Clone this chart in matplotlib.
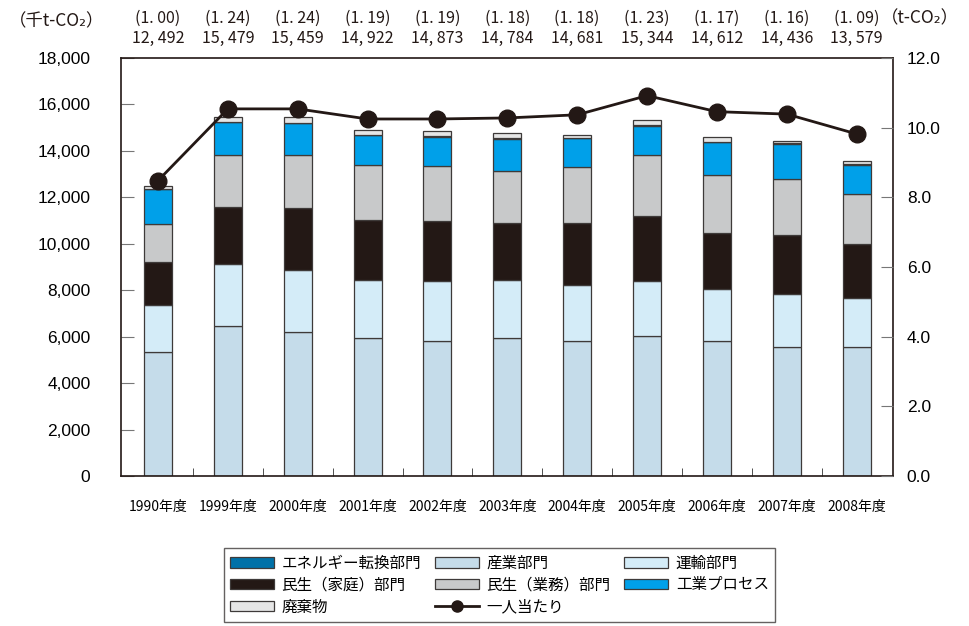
import matplotlib
matplotlib.use("Agg")
import matplotlib.pyplot as plt
from matplotlib.lines import Line2D
import numpy as np

plt.rcParams['font.family'] = ['Noto Sans CJK JP', 'DejaVu Sans']

years = ['1990年度', '1999年度', '2000年度', '2001年度', '2002年度', '2003年度',
         '2004年度', '2005年度', '2006年度', '2007年度', '2008年度']
totals = [12492, 15479, 15459, 14922, 14873, 14784, 14681, 15344, 14612, 14436, 13579]
ratios = ['1.00', '1.24', '1.24', '1.19', '1.19', '1.18', '1.18', '1.23', '1.17', '1.16', '1.09']

# 千t-CO2
sangyo = [5354, 6456, 6206, 5926, 5794, 5928, 5824, 6025, 5797, 5553, 5562]
unyu = [2027, 2653, 2650, 2518, 2622, 2518, 2395, 2379, 2257, 2281, 2114]
katei = [1827, 2455, 2692, 2560, 2552, 2433, 2678, 2801, 2426, 2550, 2313]
gyomu = [1642, 2270, 2267, 2390, 2383, 2264, 2395, 2632, 2496, 2394, 2171]
kogyo = [1513, 1390, 1389, 1273, 1269, 1386, 1261, 1253, 1396, 1530, 1249]
energy = [15, 15, 15, 15, 15, 15, 15, 15, 15, 15, 15]
haiki = [114, 240, 240, 240, 238, 240, 113, 239, 225, 113, 155]

per_capita = [8.48, 10.54, 10.54, 10.25, 10.25, 10.28, 10.37, 10.92, 10.46, 10.39, 9.82]

series = [
    ('産業部門', sangyo, '#c5dcea'),
    ('運輸部門', unyu, '#d4ecf8'),
    ('民生（家庭）部門', katei, '#231815'),
    ('民生（業務）部門', gyomu, '#c8c9ca'),
    ('工業プロセス', kogyo, '#00a0e9'),
    ('エネルギー転換部門', energy, '#0071a8'),
    ('廃棄物', haiki, '#e6e6e6'),
]

fig = plt.figure(figsize=(9.7, 6.26), dpi=100)
ax = fig.add_axes([0.1247, 0.2396, 0.7959, 0.6677])

x = np.arange(len(years))
bottom = np.zeros(len(years))
handles = {}
for name, vals, col in series:
    b = ax.bar(x, vals, 0.4, bottom=bottom, color=col, edgecolor='#3e3a39',
               linewidth=0.9, label=name)
    handles[name] = b
    bottom += np.array(vals)

ax.set_xlim(-0.53, 10.52)
ax.set_ylim(0, 18000)
ax.set_yticks(range(0, 18001, 2000))
ax.set_yticklabels([f'{v:,}' for v in range(0, 18001, 2000)], fontsize=12.5,
                   family=['Liberation Sans', 'DejaVu Sans'])
ax.tick_params(axis='y', direction='in', length=9, color='#777777', pad=22)

ax.set_xticks(x)
ax.set_xticklabels(years, fontsize=10)
ax.tick_params(axis='x', length=0, pad=17)
ax.set_xticks(x[:-1] + 0.5, minor=True)
ax.tick_params(axis='x', which='minor', direction='in', length=6, color='#333333')

for s in ax.spines.values():
    s.set_color('#231815')
    s.set_linewidth(1.2)

ax2 = ax.twinx()
ax2.set_ylim(0, 12)
ax2.set_yticks(np.arange(0, 12.1, 2))
ax2.set_yticklabels([f'{v:.1f}' for v in np.arange(0, 12.1, 2)], fontsize=12.5,
                    family=['Liberation Sans', 'DejaVu Sans'])
ax2.tick_params(axis='y', direction='in', length=9, color='#777777', pad=10)
ax2.plot(x, per_capita, color='#231815', linewidth=2, marker='o', markersize=12)
for s in ax2.spines.values():
    s.set_visible(False)

trans = ax.get_xaxis_transform()
for i in range(len(years)):
    ax.text(x[i], 1.096, f'({ratios[i][:2]} {ratios[i][2:]})', transform=trans,
            ha='center', va='center', fontsize=11.5, color='#231815')
    t = f'{totals[i]:,}'.replace(',', ', ')
    ax.text(x[i], 1.048, t, transform=trans, ha='center', va='center',
            fontsize=11.5, color='#231815')

fig.text(0.058, 0.966, '（千t-CO₂）', ha='center', va='center', fontsize=12.5, color='#231815')
fig.text(0.948, 0.970, '（t-CO₂）', ha='center', va='center', fontsize=12.5, color='#231815')

line_proxy = Line2D([], [], color='#231815', linewidth=2, marker='o', markersize=8)
order = ['エネルギー転換部門', '民生（家庭）部門', '廃棄物',
         '産業部門', '民生（業務）部門', 'line',
         '運輸部門', '工業プロセス']
hs = [line_proxy if n == 'line' else handles[n] for n in order]
ls = ['一人当たり' if n == 'line' else n for n in order]
leg = fig.legend(hs, ls, ncol=3, loc='center', bbox_to_anchor=(0.515, 0.0655),
                 fontsize=11.2, frameon=True, fancybox=False, edgecolor='#3e3a39',
                 handlelength=2.8, handleheight=0.7, columnspacing=0.9,
                 labelspacing=0.32, borderpad=0.4, handletextpad=0.5)
leg.get_frame().set_linewidth(1.0)

fig.savefig('out.png', dpi=100)
